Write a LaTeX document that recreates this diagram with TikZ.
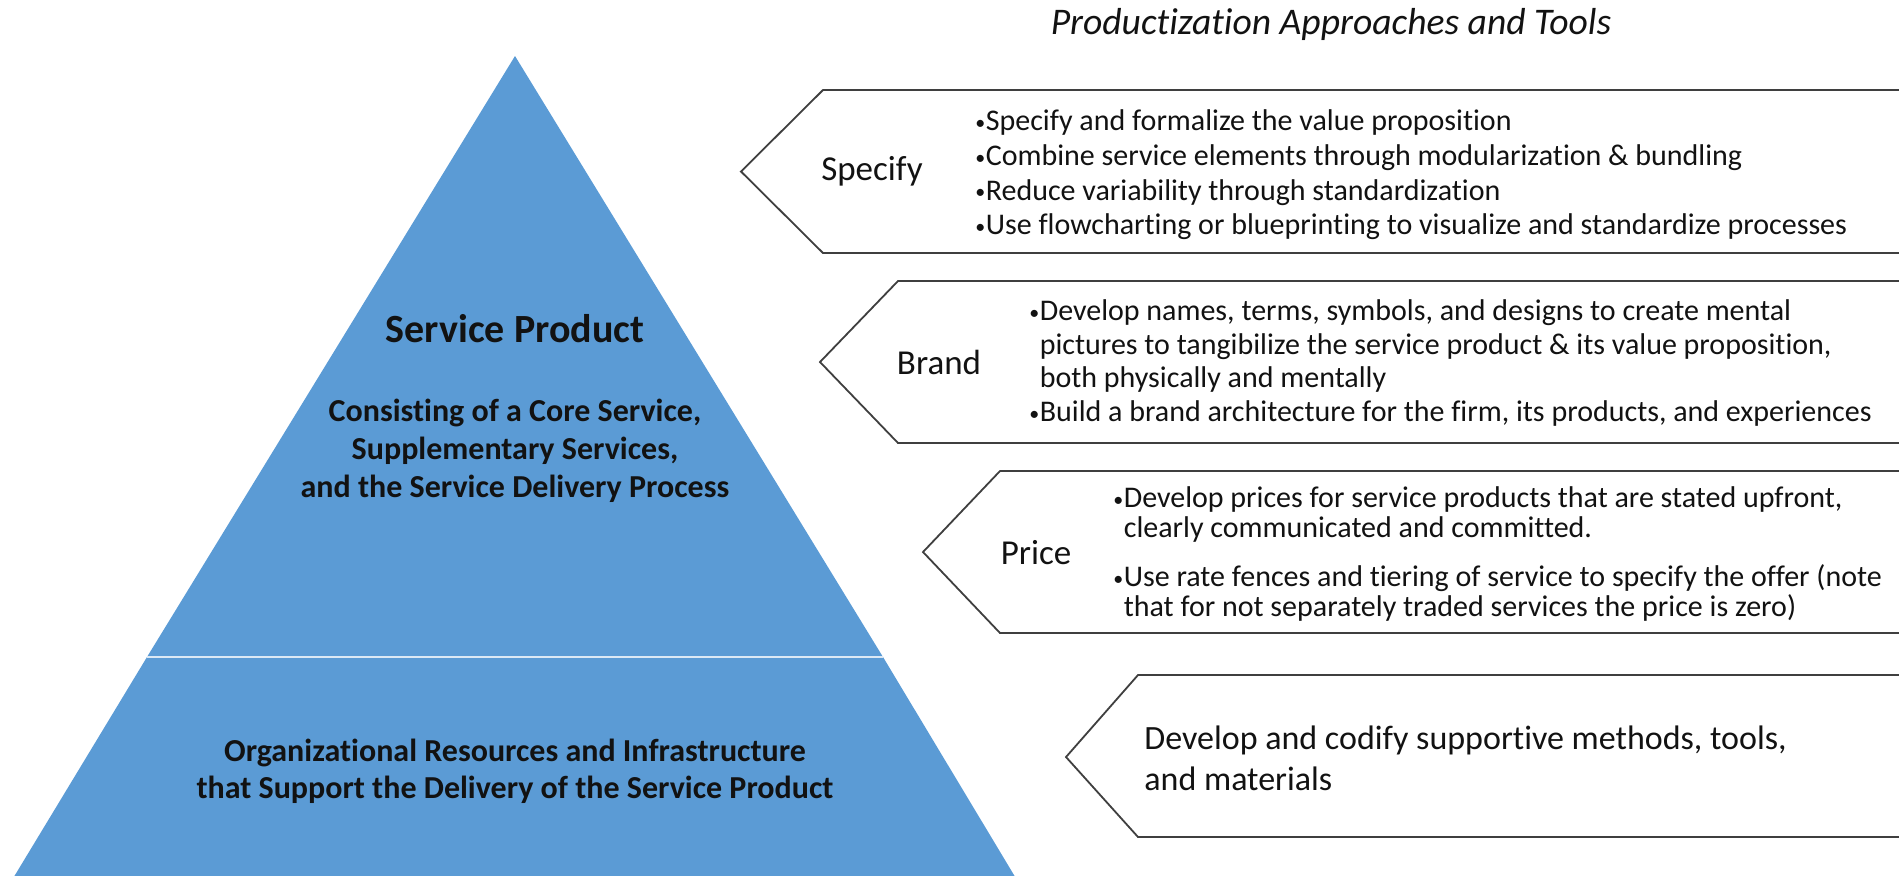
\documentclass[tikz,border=0pt]{standalone}
\usepackage{fontspec}
\setmainfont{Carlito}[Ligatures=NoCommon]
\usetikzlibrary{positioning}
\definecolor{PyrBlue}{HTML}{5B9BD5}
\definecolor{PyrLine}{HTML}{DCE9F5}
\definecolor{TagEdge}{HTML}{3F3F3F}
\definecolor{Ink}{HTML}{121212}
\newcommand{\bul}{\makebox[5.2pt][l]{\raisebox{0.6pt}{\fontsize{10}{10}\selectfont\textbullet}}}
\newcommand{\cont}{\hspace*{5.2pt}}

\begin{document}
\begin{tikzpicture}[x=0.5pt, y=-0.5pt,
  tag/.style={draw=TagEdge, fill=white, line width=0.9pt, line join=miter},
  lab/.style={font=\fontsize{17.5}{21}\selectfont, text=Ink, inner sep=0pt},
  items/.style={font=\fontsize{15}{#1}\selectfont, text=Ink, align=left, anchor=west, inner sep=0pt},
  items/.default=17.3,
  pyr/.style={font=\bfseries\fontsize{16}{#1}\selectfont, text=Ink, align=center, inner sep=0pt},
  pyr/.default=19,
]
\useasboundingbox (0,0) rectangle (1899,875);
\def\rx{1910}
% ---------------- pyramid
\fill[PyrBlue] (515,56) -- (147,657) -- (883,657) -- cycle;
\fill[PyrBlue] (147,657) -- (883,657) -- (1017,880) -- (12,880) -- cycle;
\draw[PyrLine, line width=1.1pt] (147,657) -- (883,657);
\node[pyr, font=\bfseries\fontsize{20}{24}\selectfont] (sp) at (515,329) {Service Product};
\node[pyr] (core) at (515,451) {Consisting of a Core Service,\\ Supplementary Services,\\ and the Service Delivery Process};
\node[pyr=18.5] (infra) at (515,771) {Organizational Resources and Infrastructure\\ that Support the Delivery of the Service Product};
% ---------------- heading
\node[font=\itshape\fontsize{18.8}{22}\selectfont, text=Ink] (head) at (1331,24) {Productization Approaches and Tools};
% ---------------- specify
\draw[tag] (\rx,90) -- (823,90) -- (741,171.5) -- (823,253) -- (\rx,253);
\node[lab] (specify) at (872,171) {Specify};
\node[items] (specifyitems) at (975,175) {\bul Specify and formalize the value proposition\\
  \bul Combine service elements through modularization \& bundling\\
  \bul Reduce variability through standardization\\
  \bul Use flowcharting or blueprinting to visualize and standardize processes};
% ---------------- brand
\draw[tag] (\rx,281) -- (898,281) -- (820,362) -- (898,443) -- (\rx,443);
\node[lab] (brand) at (939,362) {Brand};
\node[items=16.8] (branditems) at (1029,363) {\bul Develop names, terms, symbols, and designs to create mental\\
  \cont pictures to tangibilize the service product \& its value proposition,\\
  \cont both physically and mentally\\
  \bul Build a brand architecture for the firm, its products, and experiences};
% ---------------- price
\draw[tag] (\rx,471) -- (1000,471) -- (923,552) -- (1000,633) -- (\rx,633);
\node[lab] (price) at (1036,553) {Price};
\node[items=14.8] (priceitems) at (1113,554) {\bul Develop prices for service products that are stated upfront,\\
  \cont clearly communicated and committed.\\[10pt]
  \bul Use rate fences and tiering of service to specify the offer (note\\
  \cont that for not separately traded services the price is zero)};
% ---------------- supportive tools
\draw[tag] (\rx,675) -- (1138,675) -- (1066,757) -- (1138,837) -- (\rx,837);
\node[items, font=\fontsize{17}{20.5}\selectfont] (support) at (1144,758) {Develop and codify supportive methods, tools,\\ and materials};
\end{tikzpicture}
\end{document}
